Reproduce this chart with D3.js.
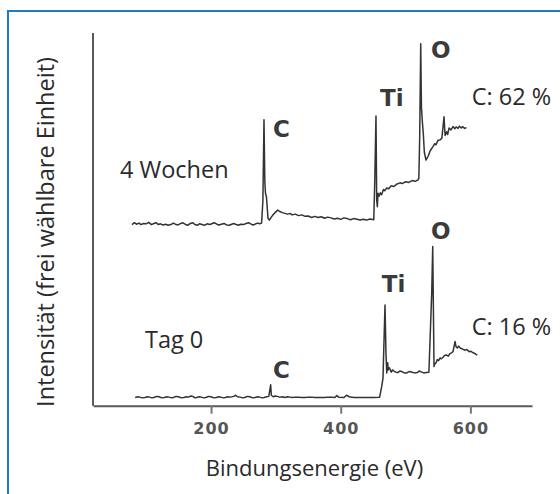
<!DOCTYPE html>
<html>
<head>
<meta charset="utf-8">
<script src="https://cdn.jsdelivr.net/npm/d3@7"></script>
<style>
  html, body { margin: 0; padding: 0; background: #fff; }
  svg { display: block; }
</style>
</head>
<body>
<div id="chart"></div>
<script>
// XPS-Spektren, Intensität in frei wählbarer Einheit (0..100), Energie in eV
const wochen4 = [
  [78, 48.6], [82, 49.1], [85, 48.7], [89, 49.0], [92, 48.6], [96, 48.9], [100, 48.8],
  [104, 49.2], [108, 48.6], [112, 48.9], [115, 49.1], [119, 48.6], [122, 48.8], [126, 48.5],
  [130, 48.7], [134, 48.4], [138, 48.6], [142, 49.0], [145, 48.7], [149, 48.5], [152, 48.8],
  [156, 49.1], [160, 48.7], [164, 48.4], [168, 48.9], [172, 49.1], [175, 48.6], [179, 48.4],
  [182, 48.8], [186, 48.6], [190, 48.4], [194, 48.8], [198, 48.6], [202, 48.9], [205, 49.1],
  [209, 48.7], [212, 48.5], [216, 48.7], [220, 48.9], [224, 48.5], [228, 48.4], [232, 48.7],
  [235, 48.9], [239, 48.6], [242, 48.4], [246, 48.7], [250, 48.6], [254, 48.9], [258, 49.1],
  [262, 48.7], [265, 48.5], [269, 48.8], [272, 49.0], [275, 48.8], [278, 49.0],
  [280, 55], [281.7, 76.7], [283, 60], [284, 57], [285.5, 56], [287.9, 50.3], [290, 49.8],
  [293, 50.6], [296, 51.3], [300, 52], [303, 52.5], [306, 52.1], [310, 51.8], [314, 51.6],
  [318, 51.4], [322, 51.6], [325, 51.2], [330, 51.4], [335, 51.0], [340, 51.2], [345, 50.8],
  [350, 50.9], [355, 50.5], [360, 50.8], [365, 50.5], [370, 50.7], [375, 50.3], [380, 50.6],
  [385, 50.4], [390, 50.1], [395, 50.3], [400, 50.0], [405, 50.4], [410, 50.2], [415, 49.9],
  [420, 50.2], [425, 50.0], [430, 49.8], [435, 50.0], [440, 49.8], [445, 50.1], [451, 49.9],
  [452.5, 60], [454.4, 77.7], [455.5, 55.2], [456.5, 53.4], [457.5, 57], [459, 56.2],
  [461, 57.1], [463, 56.6], [466, 58], [468, 57.7], [470.9, 58.4], [474, 58.2], [478, 59],
  [482, 58.8], [486, 59.4], [491.5, 59.8], [495, 59.6], [500, 60.1], [505, 59.9], [510, 60.4],
  [515, 60.2], [519.2, 60.6], [520.5, 61], [521.8, 72], [523.4, 97.1], [524.5, 80],
  [526, 76], [527.3, 73.2], [529, 68], [531.5, 65.9], [535, 67], [538, 68.4], [542.3, 69.5],
  [545, 70.3], [547, 70], [550, 71.2], [553.1, 71.3], [556, 71.8], [559.3, 77.5],
  [561, 72.5], [563.4, 73.5], [565, 72.8], [567, 74.5], [570, 74], [573.2, 74.9],
  [576, 74.3], [578, 74.8], [581, 74.4], [583, 75], [586, 74.5], [588, 74.9], [591, 74.4],
  [594, 74.6]
];

const tag0 = [
  [83, 2.2], [87, 2.4], [90, 2.3], [94, 2.1], [98, 2.2], [102, 2.4], [105, 2.3], [109, 2.1],
  [112, 2.2], [116, 2.5], [120, 2.4], [124, 2.1], [128, 2.2], [132, 2.4], [135, 2.3],
  [139, 2.1], [142, 2.2], [146, 2.5], [150, 2.4], [154, 2.1], [158, 2.2], [162, 2.4],
  [165, 2.3], [169, 2.6], [172, 2.5], [175, 2.1], [178, 2.2], [182, 2.4], [185, 2.3],
  [189, 2.1], [192, 2.2], [196, 2.5], [200, 2.4], [204, 2.1], [208, 2.2], [212, 2.4],
  [215, 2.3], [219, 2.1], [222, 2.2], [226, 2.4], [230, 2.3], [235, 2.5], [238, 2.8],
  [241, 2.4], [245, 2.3], [249, 2.1], [252, 2.2], [256, 2.5], [260, 2.4], [264, 2.1],
  [268, 2.2], [272, 2.4], [275, 2.3], [279, 2.1], [282, 2.2], [286, 2.4],
  [289, 2.5], [291, 4.5], [292, 5.6], [293, 2.8], [296, 2.4], [299, 2.6], [302, 2.5],
  [306, 2.3], [310, 2.4], [314, 2.2], [318, 2.4], [322, 2.3], [325, 2.2], [330, 2.3],
  [335, 2.3], [340, 2.2], [345, 2.2], [350, 2.3], [355, 2.3], [360, 2.2], [365, 2.2],
  [370, 2.2], [375, 2.2], [380, 2.3], [385, 2.3], [391, 2.2], [394, 2.7], [397, 2.3],
  [405, 2.2], [409, 2.8], [413, 2.4], [420, 2.2], [430, 2.2], [440, 2.2], [450, 2.2],
  [460, 2.3], [463.2, 5.1], [465.2, 7.4], [468.3, 27.0], [469.8, 14.1], [471, 8.8],
  [472.5, 11.5], [473.2, 9.6], [475, 10.2], [478, 9.0], [480, 9.6], [482, 9.3], [485, 9.0],
  [488, 8.9], [491, 9.3], [495, 9.1], [498, 8.8], [502, 8.8], [506, 9.2], [510, 9.0],
  [514, 8.8], [518, 8.9], [521, 9.3], [525, 9.0], [528, 8.8], [532, 8.9], [536, 9.0],
  [540.3, 30], [541.9, 42.7], [543, 25], [543.9, 10.5], [545, 11.2], [547, 11.5],
  [549, 12.4], [551, 12.1], [553.1, 12.8], [555, 12.6], [558, 13.0], [560, 13.5],
  [563.4, 13.6], [566, 13.3], [568, 13.9], [571, 14.2], [573.2, 14.5], [576.3, 17.2],
  [578, 15.8], [580, 15.5], [582, 16.0], [584, 15.5], [587, 15.3], [590, 15.0],
  [591.7, 14.9], [594, 15.1], [598, 14.5], [601, 14.6], [604, 14.2], [607, 14.0],
  [610.6, 13.6]
];

const xTicks = [200, 400, 600];

// Beschriftungen: [text, eV, Intensität, fett]
const labels = [
  ["4 Wochen", 59.6, 61.1, false],
  ["Tag 0", 98.2, 15.5, false],
  ["C: 62 %", 602, 80.7, false],
  ["C: 16 %", 602, 19.0, false],
  ["C", 295.6, 72.1, true],
  ["Ti", 460.6, 80.4, true],
  ["O", 539.2, 93.2, true],
  ["C", 295.6, 7.4, true],
  ["Ti", 463.2, 30.6, true],
  ["O", 539.2, 44.7, true]
];

const W = 560, H = 494;
const svg = d3.select("#chart").append("svg")
  .attr("width", W)
  .attr("height", H);

// blauer Rahmen
svg.append("rect")
  .attr("x", 8).attr("y", 11)
  .attr("width", 600).attr("height", 600)
  .attr("fill", "none")
  .attr("stroke", "#1c7cc4")
  .attr("stroke-width", 2);

const x = d3.scaleLinear().domain([18, 695]).range([93, 532]);
const y = d3.scaleLinear().domain([0, 100]).range([405.7, 33]);

// Achsen
svg.append("line")
  .attr("x1", x.range()[0]).attr("x2", x.range()[0])
  .attr("y1", y.range()[1]).attr("y2", y.range()[0])
  .attr("stroke", "#5a5a5a").attr("stroke-width", 2);

const xAxis = svg.append("g")
  .attr("transform", `translate(0,${y.range()[0]})`)
  .call(d3.axisBottom(x).tickValues(xTicks).tickSize(8).tickSizeOuter(0).tickPadding(9));
xAxis.select(".domain").attr("stroke", "#5a5a5a").attr("stroke-width", 2);
xAxis.selectAll(".tick line").attr("stroke", "#777").attr("stroke-width", 2);
xAxis.selectAll(".tick text")
  .attr("fill", "#555")
  .style("font-family", "'DejaVu Sans', sans-serif")
  .style("font-weight", "bold")
  .style("font-size", "16px")
  .style("letter-spacing", "1px");

// Spektren
const line = d3.line().x(d => x(d[0])).y(d => y(d[1]));
[wochen4, tag0].forEach(s => {
  svg.append("path")
    .datum(s)
    .attr("d", line)
    .attr("fill", "none")
    .attr("stroke", "#333")
    .attr("stroke-width", 1.5)
    .attr("stroke-linejoin", "round");
});

svg.selectAll("text.lbl")
  .data(labels)
  .enter()
  .append("text")
  .attr("class", "lbl")
  .attr("x", d => x(d[1]))
  .attr("y", d => y(d[2]))
  .attr("fill", d => d[3] ? "#3a3a3a" : "#2a2a2a")
  .style("font-family", d => d[3] ? "'DejaVu Sans', sans-serif" : "'Open Sans', sans-serif")
  .style("font-weight", d => d[3] ? "bold" : "normal")
  .style("font-size", d => d[3] ? "23px" : "23.5px")
  .text(d => d[0]);

// Achsentitel
svg.append("text")
  .attr("x", 314.5)
  .attr("y", 476)
  .attr("text-anchor", "middle")
  .attr("fill", "#2a2a2a")
  .style("font-family", "'Open Sans', sans-serif")
  .style("font-size", "22px")
  .text("Bindungsenergie (eV)");

svg.append("text")
  .attr("transform", "translate(54,232) rotate(-90)")
  .attr("text-anchor", "middle")
  .attr("fill", "#2a2a2a")
  .style("font-family", "'Open Sans', sans-serif")
  .style("font-size", "23.5px")
  .text("Intensität (frei wählbare Einheit)");
</script>
</body>
</html>
